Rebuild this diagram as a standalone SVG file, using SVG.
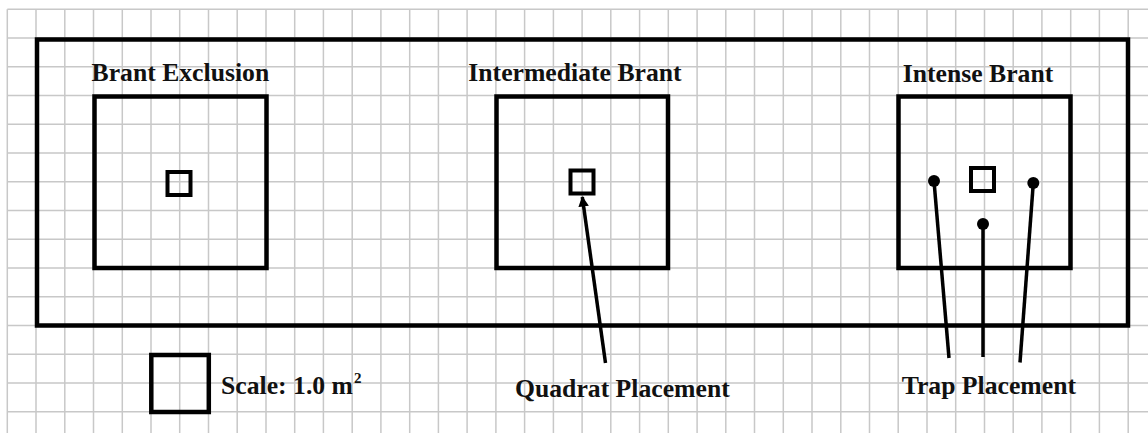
<svg xmlns="http://www.w3.org/2000/svg" width="1148" height="433" viewBox="0 0 1148 433">
<defs>
<style>
.grid{stroke:#c8c8c8;stroke-width:1.5;fill:none}
.box{fill:none;stroke:#000;stroke-width:4.5}
.sq{fill:none;stroke:#000;stroke-width:4}
.lbl{font-family:"Liberation Serif","Times New Roman",serif;font-weight:bold;font-size:25.7px;fill:#111}
.conn{stroke:#000;stroke-width:3.5;fill:none;stroke-linecap:butt}
</style>
<marker id="arr" viewBox="0 0 10 10" refX="9" refY="5" markerWidth="3" markerHeight="3" orient="auto" markerUnits="strokeWidth">
<path d="M0,0 L10,5 L0,10 z" fill="#000"/>
</marker>
</defs>
<rect width="1148" height="433" fill="#fff"/>
<g id="grid">
<path class="grid" d="M7.3,9.3V433 M36,9.3V433 M64.8,9.3V433 M93.5,9.3V433 M122.3,9.3V433 M151,9.3V433 M179.7,9.3V433 M208.5,9.3V433 M237.2,9.3V433 M266,9.3V433 M294.7,9.3V433 M323.4,9.3V433 M352.2,9.3V433 M380.9,9.3V433 M409.7,9.3V433 M438.4,9.3V433 M467.1,9.3V433 M495.9,9.3V433 M524.6,9.3V433 M553.4,9.3V433 M582.1,9.3V433 M610.8,9.3V433 M639.6,9.3V433 M668.3,9.3V433 M697.1,9.3V433 M725.8,9.3V433 M754.5,9.3V433 M783.3,9.3V433 M812,9.3V433 M840.8,9.3V433 M869.5,9.3V433 M898.2,9.3V433 M927,9.3V433 M955.7,9.3V433 M984.5,9.3V433 M1013.2,9.3V433 M1041.9,9.3V433 M1070.7,9.3V433 M1099.4,9.3V433 M1128.2,9.3V433"/>
<path class="grid" d="M7.3,9.3H1148 M7.3,38H1148 M7.3,66.8H1148 M7.3,95.5H1148 M7.3,124.3H1148 M7.3,153H1148 M7.3,181.7H1148 M7.3,210.5H1148 M7.3,239.2H1148 M7.3,268H1148 M7.3,296.7H1148 M7.3,325.4H1148 M7.3,354.2H1148 M7.3,382.9H1148 M7.3,411.7H1148"/>
</g>
<g id="field">
<rect class="box" x="37" y="39.5" width="1091" height="286"/>
</g>
<g id="brant-exclusion">
<rect class="box" x="94.5" y="96.5" width="172" height="171.5"/>
<rect class="sq" x="167.5" y="172" width="23" height="23"/>
<text class="lbl" x="91.5" y="81">Brant Exclusion</text>
</g>
<g id="intermediate-brant">
<rect class="box" x="496.5" y="96.5" width="171.5" height="171.5"/>
<rect class="sq" x="570.5" y="170.5" width="23" height="23"/>
<text class="lbl" x="468.3" y="81">Intermediate Brant</text>
</g>
<g id="intense-brant">
<rect class="box" x="898.5" y="96.5" width="172" height="171.5"/>
<rect class="sq" x="971" y="168" width="23" height="23"/>
<circle cx="934" cy="181" r="6"/>
<circle cx="983" cy="224" r="6"/>
<circle cx="1033.3" cy="183" r="6"/>
<text class="lbl" x="902.7" y="81.5">Intense Brant</text>
</g>
<g id="scale">
<rect class="box" x="151.3" y="355" width="57.5" height="57"/>
<text class="lbl" x="221" y="394.3">Scale: 1.0 m<tspan dx="1" dy="-11" style="font-size:15px">2</tspan></text>
</g>
<g id="quadrat-label">
<text class="lbl" x="515" y="396.5">Quadrat Placement</text>
</g>
<g id="trap-label">
<text class="lbl" x="901.7" y="394">Trap Placement</text>
</g>
<g id="connectors">
<line class="conn" x1="605.5" y1="363" x2="582.3" y2="197" marker-end="url(#arr)"/>
<line class="conn" x1="934" y1="181" x2="949" y2="358"/>
<line class="conn" x1="983" y1="224" x2="983" y2="357"/>
<line class="conn" x1="1033.3" y1="183" x2="1020" y2="362.5"/>
</g>
</svg>
